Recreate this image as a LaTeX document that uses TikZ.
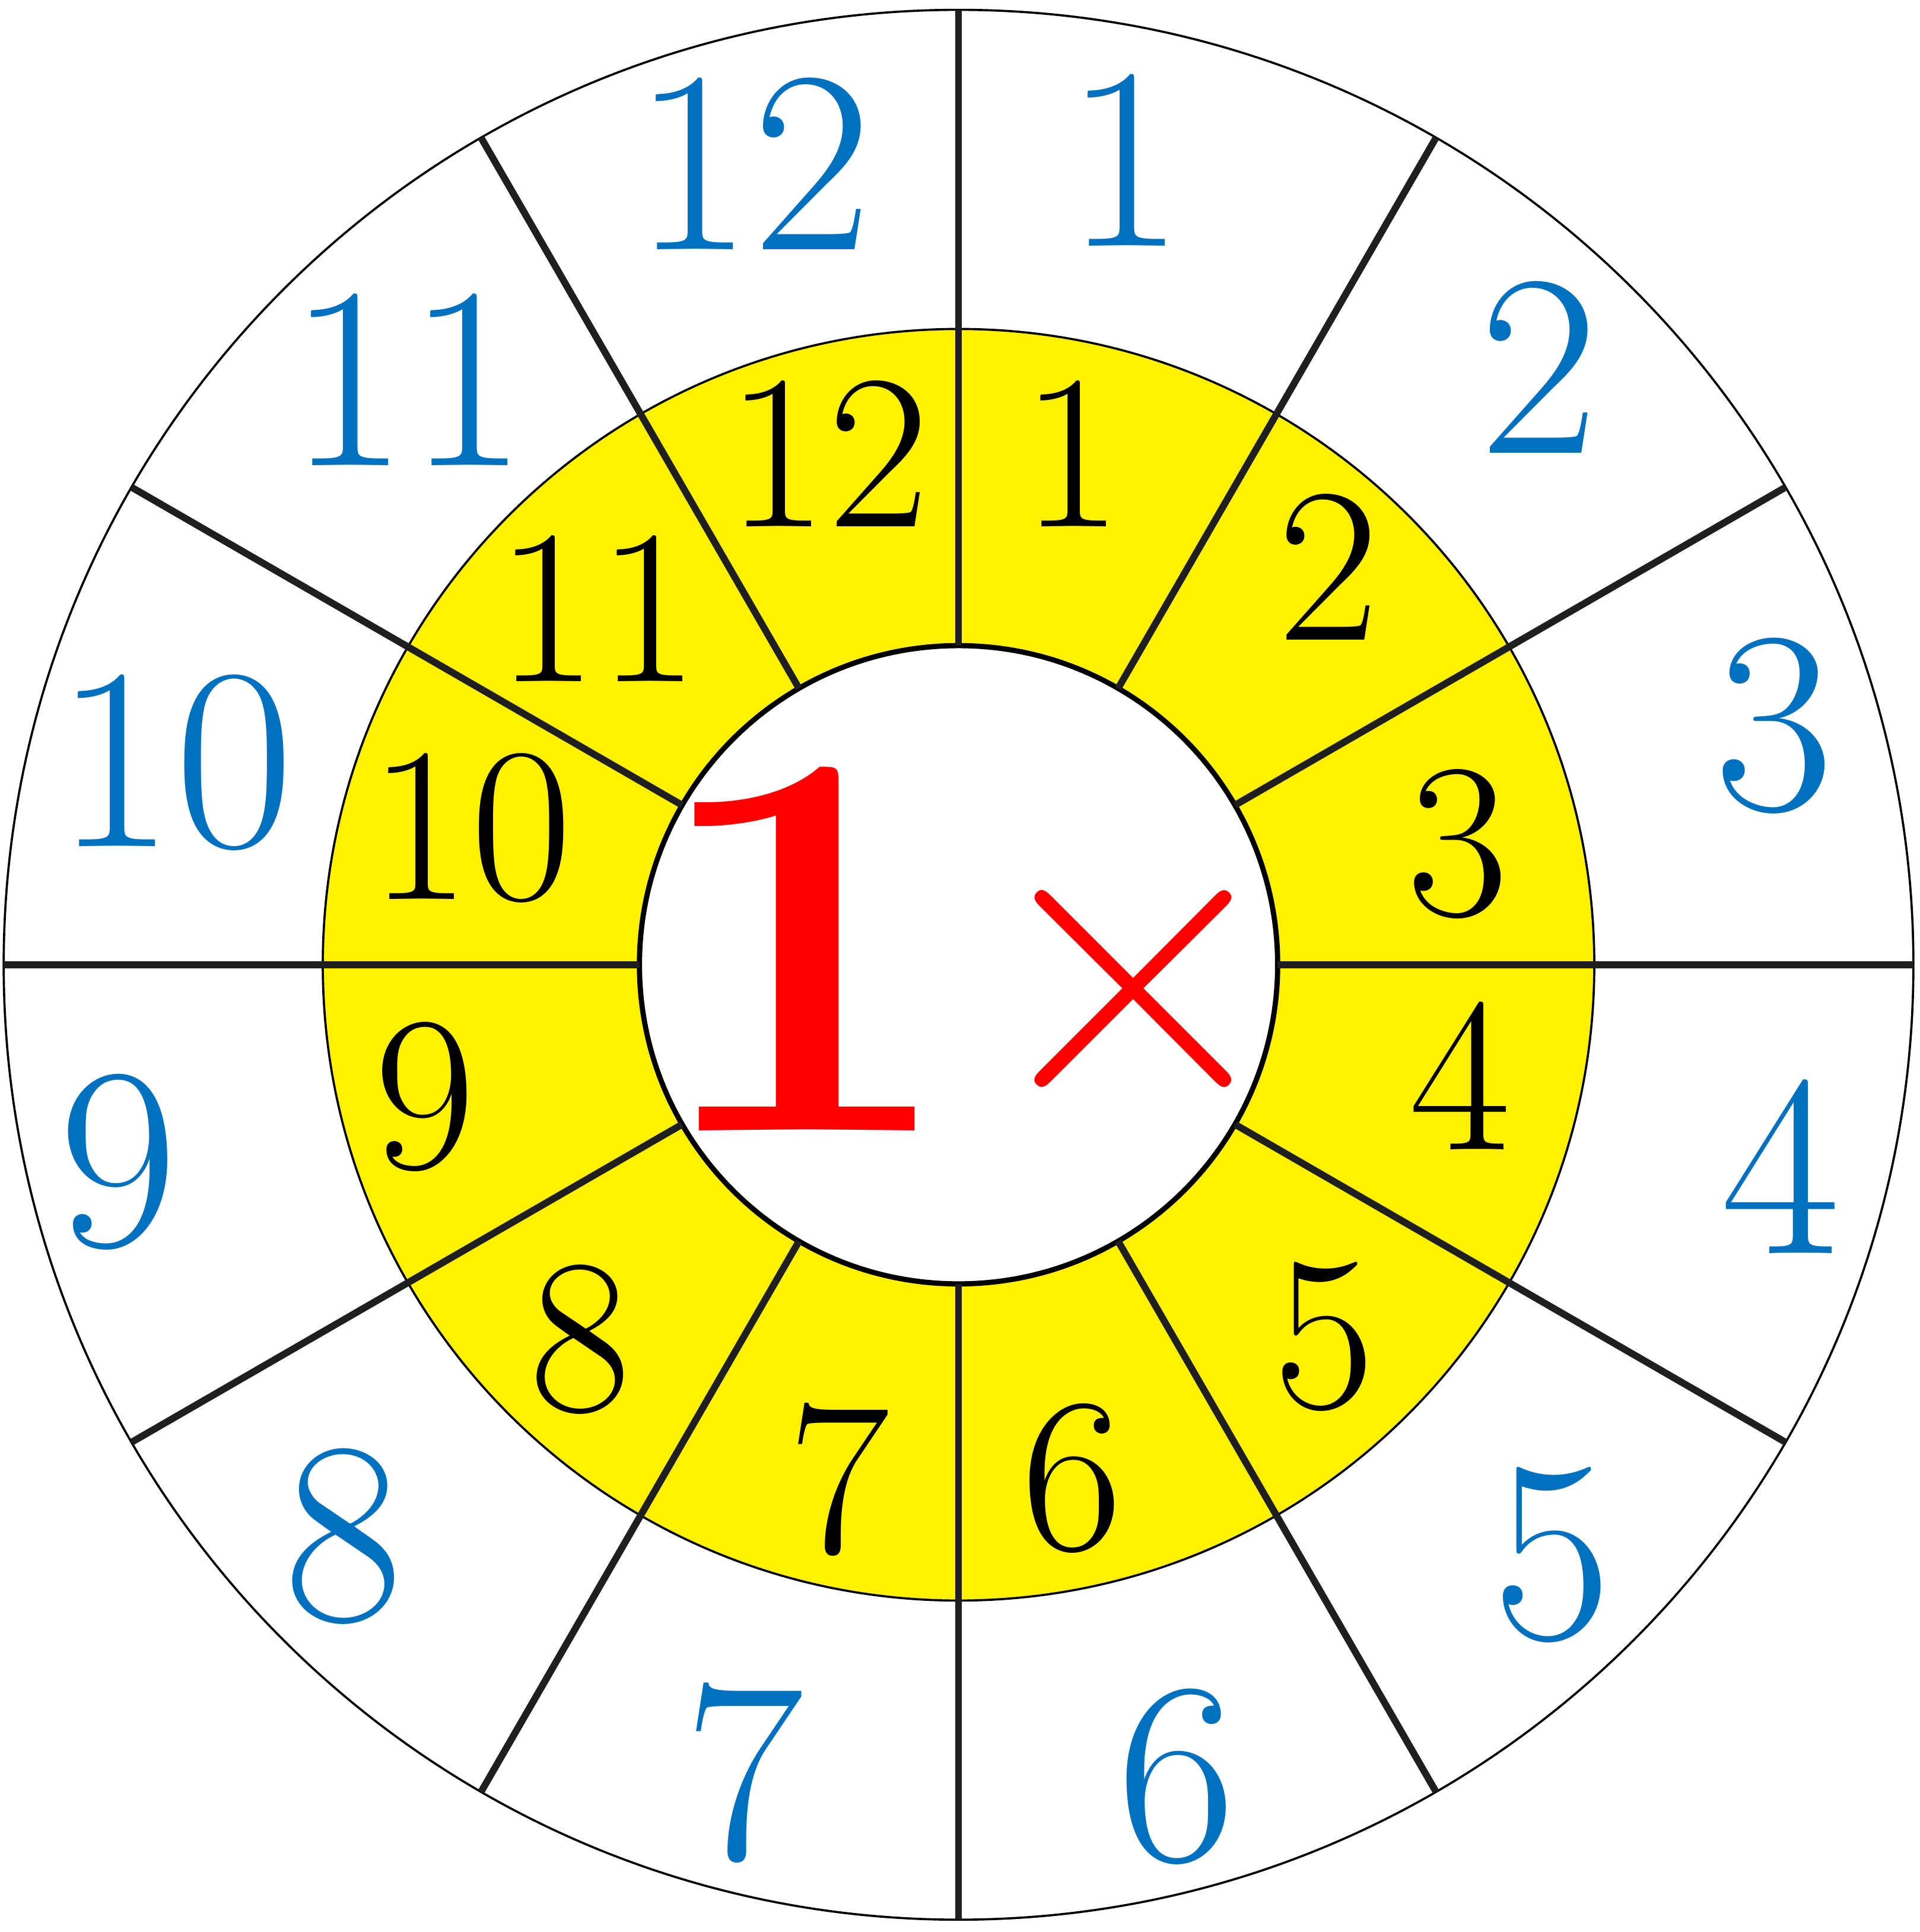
\documentclass[tikz,border=0pt]{standalone}
\usepackage{xcolor}
\definecolor{wheelyellow}{HTML}{FFF100}
\definecolor{wheelblue}{HTML}{0070C0}
\definecolor{wheelred}{HTML}{FF0000}

\begin{document}
\begin{tikzpicture}[
  rim/.style={black, line width=0.5pt},
  hub/.style={black, line width=1.2pt},
  spoke/.style={black!88, line width=1.6pt},
  outernum/.style={wheelblue, inner sep=0pt, font=\fontsize{60}{60}\selectfont},
  innernum/.style={black, inner sep=0pt, font=\fontsize{51}{51}\selectfont},
  factor/.style={wheelred, inner sep=0pt}
]
  % ---- page, same proportions as the wheel sheet ----
  \path[use as bounding box] (-7.78,-7.85) rectangle (7.80,7.83);

  % ---- the three rings ----
  \draw[rim, fill=white] (0,0) circle (7.75);
  \draw[rim, fill=wheelyellow] (0,0) circle (5.16);
  \draw[hub, fill=white] (0,0) circle (2.59);

  % ---- twelve spokes, hub to rim ----
  \foreach \a in {0,30,...,330}
    \draw[spoke] (\a:2.59) -- (\a:7.75);

  % ---- outer ring: blue ----
  \foreach \n/\x/\y in {1/1.35/6.53, 2/4.71/4.85, 3/6.62/1.94, 4/6.67/-1.64,
                        5/4.82/-4.79, 6/1.77/-6.59, 7/-1.74/-6.56, 8/-4.99/-4.64,
                        9/-6.82/-1.60, 10/-6.36/1.64, 11/-4.47/4.75, 12/-1.67/6.50}
    \node[outernum] (out\n) at (\x,\y) {\n};

  % ---- yellow ring: black ----
  \foreach \n/\x/\y in {1/0.92/4.15, 2/3.00/3.23, 3/4.05/0.98, 4/4.07/-0.90,
                        5/2.97/-3.02, 6/0.92/-4.17, 7/-0.97/-4.18, 8/-3.07/-3.04,
                        9/-4.33/-1.07, 10/-3.96/1.11, 11/-2.93/2.89, 12/-1.06/4.15}
    \node[innernum] (in\n) at (\x,\y) {\n};

  % ---- hub: the times table ----
  \node[factor, font=\fontsize{128}{128}\bfseries\selectfont] (one) at (-1.26,0.13) {1};
  \node[factor, font=\fontsize{100}{100}\selectfont] (times) at (1.42,-0.22) {×};
\end{tikzpicture}
\end{document}
